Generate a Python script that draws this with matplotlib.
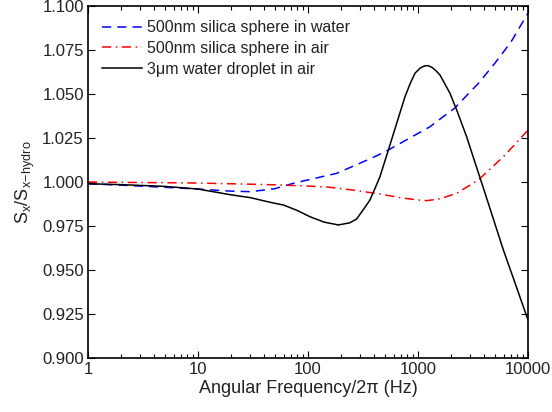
import matplotlib
matplotlib.use("Agg")
import matplotlib.pyplot as plt
from matplotlib.ticker import FixedLocator, FormatStrFormatter, LogLocator, NullFormatter

plt.rcParams["font.family"] = ["Liberation Sans", "DejaVu Sans"]
plt.rcParams["mathtext.fontset"] = "custom"
plt.rcParams["mathtext.rm"] = "Liberation Sans"
plt.rcParams["mathtext.it"] = "Liberation Sans"

# values
freq_water = [1, 2, 5, 10, 20, 30, 50, 74, 100, 182, 300, 435, 538, 700, 1000, 1286, 1500, 2150, 3000, 3550,
              5000, 7000, 10000]
silica_water = [0.9990, 0.9982, 0.9970, 0.9960, 0.9948, 0.9945, 0.9962, 0.9993, 1.0012, 1.0049, 1.0108, 1.0153,
                1.0182, 1.0222, 1.0276, 1.0314, 1.0346, 1.0419, 1.0514, 1.0561, 1.0675, 1.0795, 1.0960]

freq_air = [1, 2, 5, 10, 20, 50, 100, 158, 250, 451, 700, 1000, 1200, 1600, 2250, 3000, 3530, 4500, 5970,
            7500, 10000]
silica_air = [1.0000, 0.9998, 0.9996, 0.9994, 0.9990, 0.9984, 0.9977, 0.9970, 0.9955, 0.9932, 0.9910, 0.9898,
              0.9894, 0.9905, 0.9936, 0.9984, 1.0011, 1.0072, 1.0144, 1.0210, 1.0295]

freq_drop = [1, 2, 5, 10, 20, 30, 45, 60, 80, 104, 140, 189, 240, 277, 320, 366, 410, 451, 538, 640, 762, 850,
             939, 1050, 1150, 1241, 1350, 1460, 1585, 1760, 1954, 2248, 2770, 3200, 3660, 4500, 5970, 7500, 10000]
droplet_air = [0.9990, 0.9985, 0.9975, 0.9960, 0.9927, 0.9911, 0.9885, 0.9869, 0.9838, 0.9803, 0.9772, 0.9756,
               0.9768, 0.9790, 0.9845, 0.9898, 0.9969, 1.0030, 1.0182, 1.0333, 1.0485, 1.0560, 1.0618, 1.0648,
               1.0660, 1.0661, 1.0650, 1.0632, 1.0608, 1.0556, 1.0504, 1.0409, 1.0257, 1.0136, 1.0025, 0.9852,
               0.9614, 0.9439, 0.9216]

y_ticks = [0.900, 0.925, 0.950, 0.975, 1.000, 1.025, 1.050, 1.075, 1.100]
x_ticks = [1, 10, 100, 1000, 10000]
x_labels = ["1", "10", "100", "1000", "10000"]


def main() -> None:
    fig = plt.figure(figsize=(5.52, 4.12), dpi=100)
    ax = fig.add_axes([0.1594, 0.1311, 0.7971, 0.8543])

    ax.plot(freq_water, silica_water, color="#0000ff", lw=1.1, dashes=(6, 4),
            label="500nm silica sphere in water")
    ax.plot(freq_air, silica_air, color="#ff0000", lw=1.1, dashes=(6, 3, 1, 3),
            label="500nm silica sphere in air")
    ax.plot(freq_drop, droplet_air, color="black", lw=1.1,
            label="3\u03bcm water droplet in air")

    ax.set_xscale("log")
    ax.set_xlim(1, 10000)
    ax.set_ylim(0.9, 1.1)
    ax.xaxis.set_major_locator(FixedLocator(x_ticks))
    ax.set_xticklabels(x_labels)
    ax.xaxis.set_minor_locator(LogLocator(base=10, subs=range(2, 10)))
    ax.xaxis.set_minor_formatter(NullFormatter())
    ax.yaxis.set_major_locator(FixedLocator(y_ticks))
    ax.yaxis.set_major_formatter(FormatStrFormatter("%.3f"))

    ax.tick_params(which="both", direction="in", top=True, right=True, labelsize=12, width=0.8,
                   labelcolor="#222222")
    ax.tick_params(which="major", length=5, pad=3)
    ax.tick_params(which="minor", length=3)
    for s in ax.spines.values():
        s.set_linewidth(1.2)

    ax.set_xlabel("Angular Frequency/2\u03c0 (Hz)", fontsize=13, labelpad=2, color="#222222")
    ax.set_ylabel(r"$\mathregular{S_x/S_{x\!-\!hydro}}$", fontsize=13, labelpad=4, color="#222222")

    leg = ax.legend(loc="upper left", frameon=False, fontsize=11.5, handlelength=2.5,
                    handletextpad=0.3, labelspacing=0.35, borderaxespad=0.5)
    for t in leg.get_texts():
        t.set_color("#222222")

    fig.savefig("out.png", dpi=100)
    plt.close(fig)


if __name__ == "__main__":
    main()
